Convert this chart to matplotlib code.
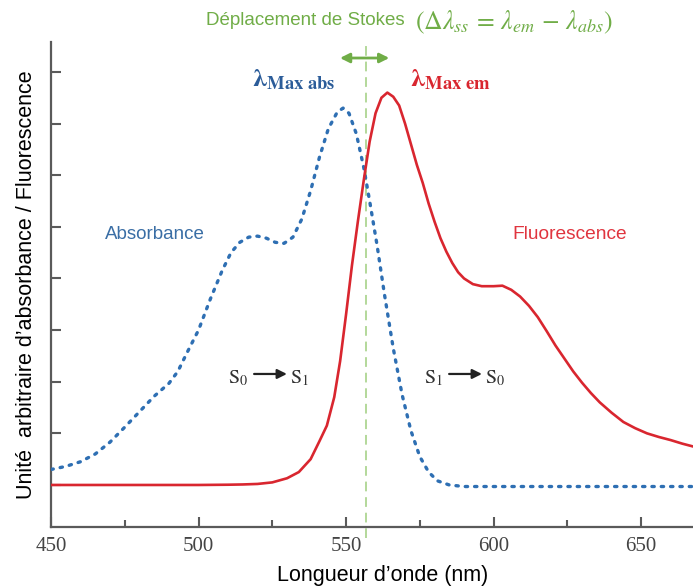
import matplotlib
matplotlib.use("Agg")
import matplotlib.pyplot as plt
import numpy as np

plt.rcParams['mathtext.fontset'] = 'stix'

# Absorbance spectrum (arbitrary units)
abs_wl = [450, 455, 460, 465, 470, 475, 480, 485, 490, 493, 496, 500, 504, 508, 511,
          514, 517, 520, 523, 526, 529, 532, 535, 538, 541, 544, 547, 549, 551, 553.5,
          556, 558, 560.5, 563, 566, 569, 572, 575, 578, 581, 585, 590, 600, 620, 640, 670]
abs_val = [0.30, 0.36, 0.45, 0.60, 0.83, 1.12, 1.42, 1.72, 1.97, 2.20, 2.55, 3.00, 3.60, 4.15, 4.50,
           4.70, 4.80, 4.82, 4.78, 4.70, 4.68, 4.80, 5.15, 5.70, 6.35, 6.90, 7.22, 7.30, 7.20, 6.80,
           6.15, 5.50, 4.65, 3.70, 2.65, 1.75, 1.05, 0.55, 0.25, 0.08, 0.00, -0.03, -0.03, -0.03, -0.03, -0.03]

# Fluorescence spectrum (arbitrary units)
fl_wl = [450, 500, 510, 515, 520, 525, 530, 534, 538, 541, 543.5, 546, 548, 550, 552, 554, 556,
         558, 560, 562, 564, 566, 568, 570, 572, 574, 576, 578, 580, 582, 584, 586, 588, 590, 593,
         596, 600, 603, 606, 609, 612, 615, 618, 621, 624, 627, 630, 633, 636, 640, 644, 648,
         652, 656, 660, 664, 668, 672]
fl_val = [0.0, 0.0, 0.005, 0.01, 0.02, 0.05, 0.13, 0.25, 0.50, 0.85, 1.15, 1.70, 2.40, 3.30, 4.25, 5.10, 5.90,
          6.65, 7.20, 7.50, 7.60, 7.52, 7.35, 7.00, 6.60, 6.20, 5.85, 5.45, 5.10, 4.78, 4.52, 4.30, 4.12, 4.00, 3.89,
          3.85, 3.85, 3.86, 3.78, 3.65, 3.47, 3.25, 2.98, 2.70, 2.45, 2.20, 1.98, 1.78, 1.60, 1.40, 1.22, 1.10,
          1.00, 0.93, 0.87, 0.80, 0.74, 0.68]

xticks = [450, 500, 550, 600, 650]
xminor = [475, 525, 575, 625]
yticks = [0, 1, 2, 3, 4, 5, 6, 7, 8]

lam_abs = 549
lam_em = 564
stokes_line = 556.8

blue = '#2e6fb3'
red = '#d9262f'
green = '#70ad47'
spine_c = '#5a5a5a'

fig = plt.figure(figsize=(6.93, 5.88), dpi=100)
ax = fig.add_axes([51/693, 1-527/588, 1-51/693, (527-42)/588])

ax.plot(abs_wl, abs_val, color=blue, lw=2.4, linestyle=(0, (0.7, 2.1)),
        dash_capstyle='round', zorder=3)
ax.plot(fl_wl, fl_val, color=red, lw=1.9, zorder=4)

ax.set_xlim(450, 667.6)
ax.set_ylim(-0.814, 8.58)

ax.set_xticks(xticks)
ax.set_xticks(xminor, minor=True)
ax.set_xticklabels([str(t) for t in xticks], family='Liberation Serif', fontsize=15, color='#444444')
ax.set_yticks(yticks)
ax.set_yticklabels([])
ax.tick_params(axis='both', which='major', direction='in', length=7, width=1.5, color=spine_c, pad=7)
ax.tick_params(axis='x', which='minor', direction='in', length=5, width=1.5, color=spine_c)

for s in ['top', 'right']:
    ax.spines[s].set_visible(False)
for s in ['left', 'bottom']:
    ax.spines[s].set_color(spine_c)
    ax.spines[s].set_linewidth(1.6)

ax.set_xlabel('Longueur d\u2019onde (nm)', family='Liberation Sans', fontsize=15.5)
ax.xaxis.set_label_coords((383 - 51) / (693 - 51), -(575 - 527) / (527 - 42))
ax.xaxis.label.set_va('center')
ax.set_ylabel('Unit\u00e9  arbitraire d\u2019absorbance / Fluorescence', family='Liberation Sans',
              fontsize=15.5, labelpad=3)

# Stokes shift line and arrow
ax.plot([stokes_line, stokes_line], [-1.03, 8.6], color='#b3d89a', lw=1.4,
        linestyle=(0, (5, 3)), clip_on=False, zorder=2)
ax.annotate('', xy=(lam_abs - 2, 8.27), xytext=(565.6, 8.27),
            arrowprops=dict(arrowstyle='<|-|>', color=green, lw=2, mutation_scale=14),
            annotation_clip=False)

fig.text(405/693, 0.965, 'Déplacement de Stokes', color=green, fontsize=13.5,
         family='Liberation Sans', ha='right', va='center')
fig.text(415/693, 0.962, r'$(\Delta\lambda_{ss}\,=\,\lambda_{em}\,-\,\lambda_{abs})$',
         color=green, fontsize=18.5, ha='left', va='center')

ax.text(532.4, 7.85, r'$\mathbf{\lambda}_{\mathbf{Max\ abs}}$', color='#2b5c99', fontsize=19,
        ha='center', va='center')
ax.text(585.3, 7.85, r'$\mathbf{\lambda}_{\mathbf{Max\ em}}$', color=red, fontsize=19,
        ha='center', va='center')

ax.text(485.3, 4.86, 'Absorbance', color='#3a6ea5', fontsize=13.5, family='Liberation Sans',
        ha='center', va='center')
ax.text(625.9, 4.86, 'Fluorescence', color='#e0353f', fontsize=13.8, family='Liberation Sans',
        ha='center', va='center')

def transition(x0, a, b, y):
    ax.text(x0, y, r'$\mathrm{S}_{%s}$' % a, fontsize=14.5, color='#333333', ha='center', va='center')
    ax.annotate('', xy=(x0 + 17.5, y + 0.08), xytext=(x0 + 4.5, y + 0.08),
                arrowprops=dict(arrowstyle='-|>', color='#222222', lw=1.6, mutation_scale=14))
    ax.text(x0 + 21, y, r'$\mathrm{S}_{%s}$' % b, fontsize=14.5, color='#333333', ha='center', va='center')

transition(513.4, '0', '1', 2.07)
transition(579.5, '1', '0', 2.07)

fig.savefig('out.png', dpi=100)
